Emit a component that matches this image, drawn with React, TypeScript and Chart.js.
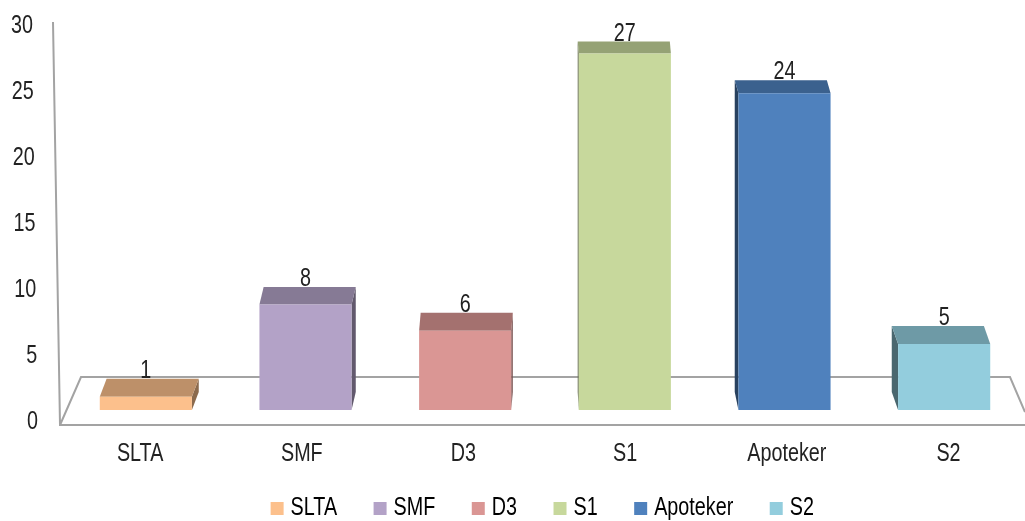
import React, { useEffect, useRef } from "react";
import { Chart, registerables } from "chart.js";

Chart.register(...registerables);

const categories = ["SLTA", "SMF", "D3", "S1", "Apoteker", "S2"];
const values = [1, 8, 6, 27, 24, 5];
const colors = ["#FCC08C", "#B3A2C7", "#DA9694", "#C7D89C", "#4F81BD", "#93CDDD"];
const yTicks = [0, 5, 10, 15, 20, 25, 30];

const FONT = "'Liberation Sans', sans-serif";
const FONT_SIZE = 25;
const NARROW = 0.79;
const LINE = "#A3A3A3";

function shade(hex: string, f: number) {
  const n = parseInt(hex.slice(1), 16);
  const r = Math.round(((n >> 16) & 255) * f);
  const g = Math.round(((n >> 8) & 255) * f);
  const b = Math.round((n & 255) * f);
  return `rgb(${r},${g},${b})`;
}

function depth(chart: any, x: number, y: number) {
  const a = chart.chartArea;
  const mid = (a.left + a.right) / 2 + 15;
  return {
    dx: 0.0165 * (mid - x),
    dy: Math.min(18, 12 + 0.0217 * (y - 53)),
  };
}

function poly(ctx: CanvasRenderingContext2D, pts: number[][], fill: string) {
  ctx.beginPath();
  pts.forEach((p, i) => (i ? ctx.lineTo(p[0], p[1]) : ctx.moveTo(p[0], p[1])));
  ctx.closePath();
  ctx.fillStyle = fill;
  ctx.fill();
}

// The reference uses a condensed face: squeeze the text on this context.
function condense(ctx: any) {
  const fill = ctx.fillText.bind(ctx);
  const measure = ctx.measureText.bind(ctx);
  ctx.fillText = (t: string, x: number, y: number) => fill(t, x, y, measure(t).width * NARROW);
  ctx.measureText = (t: string) => ({ width: measure(t).width * NARROW });
}

const slantPlugin = {
  id: "slantLabels",
  afterLayout(chart: any) {
    // keep the x labels from being clipped by the legend box below them
    chart.scales.x.bottom += 30;
  },
  beforeDraw(chart: any) {
    const ys = chart.scales.y;
    ys.getLabelItems().forEach((it: any, i: number) => {
      if (it._done) return;
      it._done = true;
      it.options.translation[0] -= (ys.ticks[i].value / 30) * 5;
    });
    // perspective spread of the category labels
    const xs = chart.scales.x;
    xs.getLabelItems().forEach((it: any) => {
      if (it._done) return;
      it._done = true;
      const x = it.options.translation[0];
      it.options.translation[0] = x + (x - 600) * 0.0125;
    });
  },
};

const floorPlugin = {
  id: "floor3d",
  beforeDatasetsDraw(chart: any) {
    const { ctx, chartArea: a, scales } = chart;
    const base = scales.y.getPixelForValue(0);
    const front = base + 15;
    const back = base - 33;
    ctx.save();
    ctx.strokeStyle = LINE;
    ctx.lineWidth = 2;
    ctx.beginPath();
    ctx.moveTo(a.left - 13, a.top + 8);
    ctx.lineTo(a.left - 6, front);
    ctx.lineTo(a.right + 1, front);
    ctx.moveTo(a.left - 6, front);
    ctx.lineTo(a.left + 15, back);
    ctx.lineTo(a.right - 14, back);
    ctx.lineTo(a.right + 1, base + 2);
    ctx.stroke();
    ctx.restore();

    const meta = chart.getDatasetMeta(0);
    meta.data.forEach((bar: any, i: number) => {
      const w = bar.width;
      const l = bar.x - w / 2;
      const r = bar.x + w / 2;
      const d = depth(chart, bar.x, bar.y);
      const dBase = depth(chart, bar.x, base);
      const col = colors[i];
      if (d.dx > 0) {
        poly(ctx, [[r, bar.y], [r + d.dx, bar.y - d.dy], [r + d.dx, base - dBase.dy], [r, base]], shade(col, 0.55));
      } else if (d.dx < 0) {
        poly(ctx, [[l, bar.y], [l + d.dx, bar.y - d.dy], [l + d.dx, base - dBase.dy], [l, base]], shade(col, 0.5));
      }
      poly(ctx, [[l, bar.y], [l + d.dx, bar.y - d.dy], [r + d.dx, bar.y - d.dy], [r, bar.y]], shade(col, 0.75));
    });
  },
  afterDatasetsDraw(chart: any) {
    const { ctx } = chart;
    const meta = chart.getDatasetMeta(0);
    ctx.save();
    ctx.fillStyle = "#222";
    ctx.font = `${FONT_SIZE}px ${FONT}`;
    ctx.textAlign = "center";
    ctx.textBaseline = "alphabetic";
    meta.data.forEach((bar: any, i: number) => {
      const d = depth(chart, bar.x, bar.y);
      ctx.fillText(String(values[i]), bar.x, bar.y - d.dy - 1);
    });
    ctx.restore();
  },
};

export default function App() {
  const ref = useRef<HTMLCanvasElement>(null);
  useEffect(() => {
    condense(ref.current!.getContext("2d"));
    const chart = new Chart(ref.current!, {
      type: "bar",
      data: {
        labels: categories,
        datasets: [
          {
            data: values,
            backgroundColor: colors,
            borderWidth: 0,
            barPercentage: 0.577,
            categoryPercentage: 1,
          },
        ],
      },
      plugins: [slantPlugin, floorPlugin],
      options: {
        responsive: false,
        animation: false,
        layout: { autoPadding: false, padding: { top: 14, left: 0, right: 1, bottom: -10 } },
        plugins: {
          tooltip: { enabled: false },
          legend: {
            position: "bottom",
            fullSize: false,
            labels: {
              usePointStyle: true,
              boxWidth: 2,
              boxHeight: 13,
              padding: 42,
              color: "#222",
              font: { family: FONT, size: FONT_SIZE },
              generateLabels: () =>
                categories.map((c, i) => ({
                  text: c,
                  fillStyle: colors[i],
                  strokeStyle: colors[i],
                  lineWidth: 0,
                  pointStyle: "rect",
                  index: i,
                })),
            },
          },
        },
        scales: {
          x: {
            grid: { display: false },
            border: { display: false },
            ticks: {
              padding: 21,
              color: "#222",
              maxRotation: 0,
              autoSkip: false,
              font: { family: FONT, size: FONT_SIZE },
            },
            afterFit(s: any) {
              s.height = 44;
              s.paddingLeft = 0;
              s.paddingRight = 0;
            },
          },
          y: {
            min: 0,
            max: 30,
            grid: { display: false },
            border: { display: false },
            afterBuildTicks(s: any) {
              s.ticks = yTicks.map((value) => ({ value }));
            },
            ticks: {
              padding: 20,
              labelOffset: 12,
              color: "#222",
              font: { family: FONT, size: FONT_SIZE },
            },
            afterFit(s: any) {
              s.width = 66;
              s.paddingTop = 0;
              s.paddingBottom = 0;
            },
          },
        },
      },
    } as any);
    return () => chart.destroy();
  }, []);
  return (
    <div style={{ position: "fixed", left: 0, top: 0, width: 1025, height: 521, background: "#fff" }}>
      <canvas ref={ref} width={1025} height={521} style={{ display: "block" }} />
    </div>
  );
}
